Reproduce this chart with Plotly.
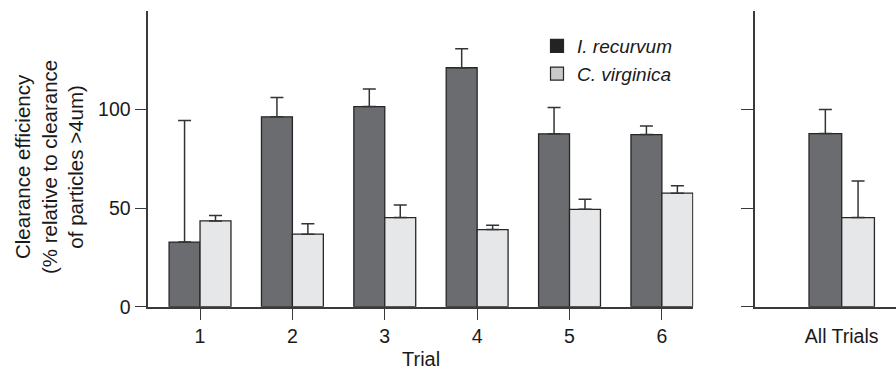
import plotly.graph_objects as go

# ---- data ----
trials = [1, 2, 3, 4, 5, 6]
trial_labels = ["1", "2", "3", "4", "5", "6"]
recurvum = [32.8, 96.3, 101.5, 121.2, 87.7, 87.3]
recurvum_err = [61.6, 9.8, 8.9, 9.6, 13.3, 4.4]
virginica = [43.5, 36.8, 45.2, 39.1, 49.4, 57.6]
virginica_err = [2.7, 5.3, 6.4, 2.2, 5.1, 3.8]
all_label = ["All Trials"]
all_recurvum = [87.8]
all_recurvum_err = [12.2]
all_virginica = [45.2]
all_virginica_err = [18.6]
series_names = ["I. recurvum", "C. virginica"]
y_ticks = [0, 50, 100]

# ---- style ----
DARK = "#6b6c70"
LIGHT = "#e6e7e9"
EDGE = "#262626"
AX = "#3a3a3a"
FONT = "Liberation Sans, Arial, Helvetica, sans-serif"
W, H = 896, 369

fig = go.Figure()

def add_bars(x, y, err, color, xa, ya, grp):
    fig.add_trace(go.Bar(
        x=x, y=y, offsetgroup=grp,
        marker=dict(color=color, line=dict(color=EDGE, width=1.3)),
        error_y=dict(type="data", array=err, arrayminus=[0] * len(err), symmetric=False,
                     color="#333333", thickness=1.5, width=6.5),
        xaxis=xa, yaxis=ya, showlegend=False, hoverinfo="skip"))

add_bars(trials, recurvum, recurvum_err, DARK, "x", "y", "a")
add_bars(trials, virginica, virginica_err, LIGHT, "x", "y", "b")
add_bars([0], all_recurvum, all_recurvum_err, DARK, "x2", "y2", "a")
add_bars([0], all_virginica, all_virginica_err, LIGHT, "x2", "y2", "b")

# legend-only entries (square markers)
for name, col in zip(series_names, ["#232323", "#c8c9cb"]):
    fig.add_trace(go.Scatter(x=[None], y=[None], name=name, mode="markers",
                             marker=dict(symbol="square", size=13, color=col,
                                         line=dict(color=EDGE, width=1.2)),
                             xaxis="x", yaxis="y", showlegend=True))

y_dom = [(H - 306.7) / H, (H - 11) / H]
x1_dom = [148.3 / W, 693.3 / W]
x2_dom = [755 / W, 1.0]

axis_common = dict(showline=True, linecolor=AX, linewidth=1.6, showgrid=False,
                   zeroline=False, ticks="outside", tickcolor=AX, tickwidth=1.3,
                   automargin=False,
                   tickfont=dict(family=FONT, size=19.5, color="#1a1a1a"))

fig.update_layout(
    template="none",
    width=W, height=H, margin=dict(l=0, r=0, t=0, b=0, pad=0),
    paper_bgcolor="white", plot_bgcolor="white",
    barmode="group", bargap=0.33, bargroupgap=0,
    font=dict(family=FONT, color="#1a1a1a"),
    xaxis=dict(domain=x1_dom, range=[0.44, 6.34], tickvals=trials, ticktext=trial_labels,
               ticklen=11, anchor="y", **axis_common),
    yaxis=dict(domain=y_dom, range=[0, 150], tickvals=y_ticks, ticklen=12,
               anchor="x", **axis_common),
    xaxis2=dict(domain=x2_dom, range=[-0.888, 0.556], tickvals=[0], ticktext=all_label,
                ticklen=11, anchor="y2",
                **{**axis_common, "tickcolor": "rgba(0,0,0,0)"}),
    yaxis2=dict(domain=y_dom, range=[0, 150], tickvals=y_ticks, ticklen=12,
                showticklabels=False, anchor="x2", **axis_common),
    legend=dict(x=537 / W, xanchor="left", y=(H - 27) / H, yanchor="top",
                font=dict(family=FONT, size=19, style="italic", color="#1a1a1a"),
                bgcolor="rgba(0,0,0,0)", borderwidth=0, tracegroupgap=0, itemwidth=30),
    annotations=[
        dict(text="Clearance efficiency<br>(% relative to clearance<br>of particles >4um)",
             textangle=-90, x=49 / W, y=(H - 167) / H, xref="paper", yref="paper",
             xanchor="center", yanchor="middle", showarrow=False,
             font=dict(family=FONT, size=20.5, color="#1a1a1a")),
        dict(text="Trial", x=421 / W, y=0, xref="paper", yref="paper",
             xanchor="center", yanchor="bottom", yshift=-3, showarrow=False,
             font=dict(family=FONT, size=20, color="#1a1a1a")),
    ],
)

fig.write_html("out.html")
